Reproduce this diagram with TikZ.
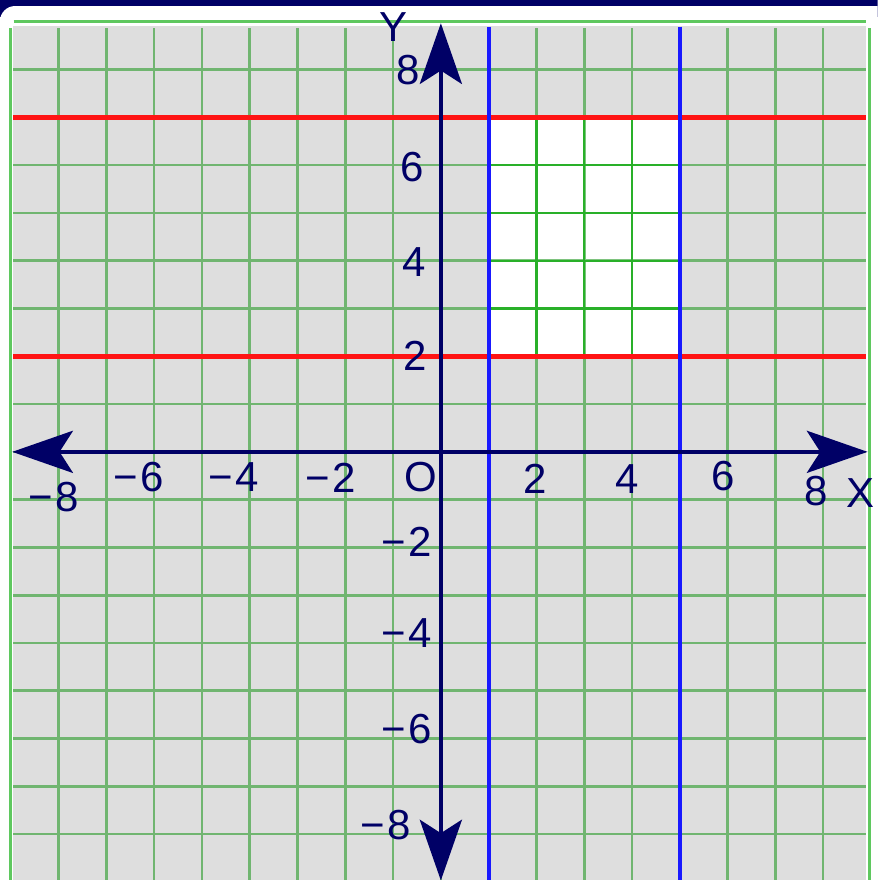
\documentclass[tikz,border=0pt]{standalone}
\usepackage{fontspec}
\setmainfont{Liberation Sans}
\usetikzlibrary{arrows.meta}
\definecolor{marine}{RGB}{0,0,102}
\definecolor{vert}{RGB}{40,155,40}
\definecolor{vertclair}{RGB}{95,200,95}
\definecolor{fond}{RGB}{222,222,222}
\definecolor{rouge}{RGB}{255,20,20}
\definecolor{bleu}{RGB}{25,25,255}
\begin{document}
\begin{tikzpicture}[xscale=1,yscale=1]
	% Styles
	\tikzstyle{grille}=[vert,line width=1.6pt,opacity=0.6]
	\tikzstyle{grillezone}=[vert!80!green,line width=1.4pt,opacity=0.9]
	\tikzstyle{bord}=[vertclair,line width=1.8pt]
	\tikzstyle{horizontale}=[rouge,line width=3pt]
	\tikzstyle{verticale}=[bleu,line width=2.5pt]
	\tikzstyle{axe}=[marine,line width=2.4pt,{Stealth[length=1.27cm,width=0.88cm,inset=0.28cm]}-{Stealth[length=1.27cm,width=0.88cm,inset=0.28cm]}]
	\tikzstyle{etiquette}=[marine,inner sep=0pt,font=\fontsize{25}{25}\selectfont]
	% Dimensions
	\def\Gauche{-9.226}
	\def\Droite{9.142}
	\def\Bas{-8.96}
	\def\Haut{9.456}
	\def\Moins{−\kern1.5pt}
	\useasboundingbox (\Gauche,\Bas) rectangle (\Droite,\Haut);
	\clip (\Gauche,\Bas) rectangle (\Droite,\Haut);
	% Cadre
	\fill[marine] (\Gauche,9.1) rectangle (\Droite,\Haut);
	\fill[white,rounded corners=9pt] (\Gauche,-9.6) rectangle (9.6,9.33);
	% Quadrillage
	\fill[fond] (-8.95,-9.1) rectangle (8.9,8.92);
	\fill[white] (1,2) rectangle (5,7);
	\draw[grille] (-8.95,-9.1) grid (8.9,8.88);
	\draw[grillezone] (1,2) grid (5,7);
	\draw[bord] (-9,-9.1) -- (-9,8.88);
	\draw[bord] (-8.94,9) -- (8.9,9);
	\draw[bord] (8.98,-9.1) -- (8.98,8.88);
	% Droites
	\coordinate (Hg7) at (-8.95,7);
	\coordinate (Hd7) at (8.9,7);
	\coordinate (Hg2) at (-8.95,2);
	\coordinate (Hd2) at (8.9,2);
	\coordinate (Vh1) at (1,8.9);
	\coordinate (Vb1) at (1,-9.1);
	\coordinate (Vh5) at (5,8.9);
	\coordinate (Vb5) at (5,-9.1);
	\draw[horizontale] (Hg7)--(Hd7);
	\draw[horizontale] (Hg2)--(Hd2);
	\draw[verticale] (Vh1)--(Vb1);
	\draw[verticale] (Vh5)--(Vb5);
	% Axes
	\coordinate (Xg) at (-8.97,0);
	\coordinate (Xd) at (8.93,0);
	\coordinate (Yh) at (0,8.97);
	\coordinate (Yb) at (0,-8.97);
	\draw[axe] (Xg)--(Xd);
	\draw[axe] (Yb)--(Yh);
	% Graduations
	\node[etiquette] (Xm8) at (-8.1,-0.94) {\Moins 8};
	\node[etiquette] (Xm6) at (-6.32,-0.52) {\Moins 6};
	\node[etiquette] (Xm4) at (-4.33,-0.52) {\Moins 4};
	\node[etiquette] (Xm2) at (-2.3,-0.55) {\Moins 2};
	\node[etiquette] (O) at (-0.42,-0.53) {O};
	\node[etiquette] (X2) at (1.97,-0.57) {2};
	\node[etiquette] (X4) at (3.9,-0.57) {4};
	\node[etiquette] (X6) at (5.9,-0.5) {6};
	\node[etiquette] (X8) at (7.86,-0.82) {8};
	\node[etiquette] (X) at (8.78,-0.86) {X};
	\node[etiquette] (Y) at (-1.0,8.9) {Y};
	\node[etiquette] (Y8) at (-0.69,8.0) {8};
	\node[etiquette] (Y6) at (-0.6,5.96) {6};
	\node[etiquette] (Y4) at (-0.55,3.98) {4};
	\node[etiquette] (Y2) at (-0.53,2.0) {2};
	\node[etiquette] (Ym2) at (-0.71,-1.88) {\Moins 2};
	\node[etiquette] (Ym4) at (-0.71,-3.79) {\Moins 4};
	\node[etiquette] (Ym6) at (-0.71,-5.8) {\Moins 6};
	\node[etiquette] (Ym8) at (-1.15,-7.82) {\Moins 8};
\end{tikzpicture}
\end{document}
